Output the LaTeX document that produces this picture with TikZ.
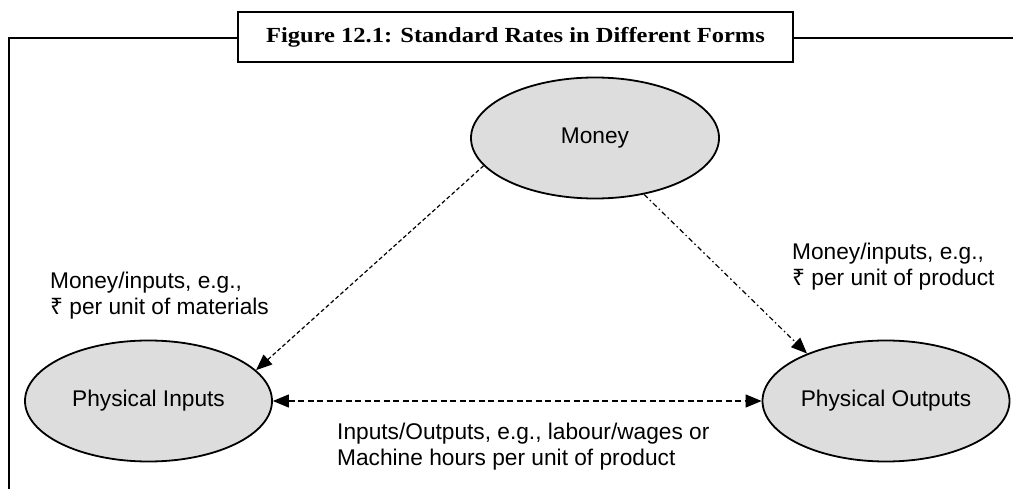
\documentclass[tikz,border=0pt]{standalone}
\usepackage{fontspec}
\setmainfont{Liberation Sans}
\newfontfamily\titlefont{Liberation Serif}
\newfontfamily\rupfont{Noto Sans}
\usetikzlibrary{arrows.meta,shapes.geometric}
\definecolor{ellfill}{HTML}{DDDDDD}
\newcommand{\rupee}{{\rupfont ₹}}
\begin{document}
\begin{tikzpicture}[x=1pt,y=-1pt,
  frame/.style={line width=2.3pt},
  ell/.style={ellipse, draw, line width=1.8pt, fill=ellfill, inner sep=0pt,
    minimum width=247pt, minimum height=121pt, font=\fontsize{22.7}{26}\selectfont},
  lbl/.style={align=left, inner sep=0pt, anchor=base west, font=\fontsize{22.7}{26}\selectfont},
  conn/.style={line width=1.2pt, -{Triangle[length=16pt,width=13pt]}},
  title/.style={draw, line width=2.3pt, minimum width=555pt, minimum height=50pt,
    inner sep=0pt, font=\titlefont\bfseries\fontsize{21.5}{24}\selectfont}
]
\useasboundingbox (0,0) rectangle (1013,489);
% frame
\node[title] (title) at (515.5,37) {\scalebox{1.14}[1]{Figure 12.1: Standard Rates in Different Forms}};
\coordinate (fl) at (9,489);
\coordinate (fc) at (9,38);
\coordinate (fr) at (1013,38);
\draw[frame] (fl) -- (fc) -- (title.west |- fc);
\draw[frame] (title.east |- fr) -- (fr);
% ellipses
\node[ell, minimum width=248pt] (money) at (595,138) {Money};
\node[ell] (inputs) at (148.5,401) {Physical Inputs};
\node[ell] (outputs) at (886,401) {Physical Outputs};
% connectors
\draw[conn, dash pattern=on 4pt off 2.5pt] (money.194.5) -- (inputs.16);
\draw[conn, dash pattern=on 5pt off 3pt on 1.5pt off 3pt] (money.-49) -- (outputs.149);
\draw[conn, {Triangle[length=16pt,width=13pt]}-{Triangle[length=16pt,width=13pt]}, dash pattern=on 6pt off 3.5pt] (inputs.east) -- (outputs.west);
% labels
\node[lbl] (lblin) at (50,315) {Money/inputs, e.g.,\\\rupee{} per unit of materials};
\node[lbl] (lblout) at (792,286) {Money/inputs, e.g.,\\\rupee{} per unit of product};
\node[lbl] (lblio) at (337,465) {Inputs/Outputs, e.g., labour/wages or\\Machine hours per unit of product};
\end{tikzpicture}
\end{document}
